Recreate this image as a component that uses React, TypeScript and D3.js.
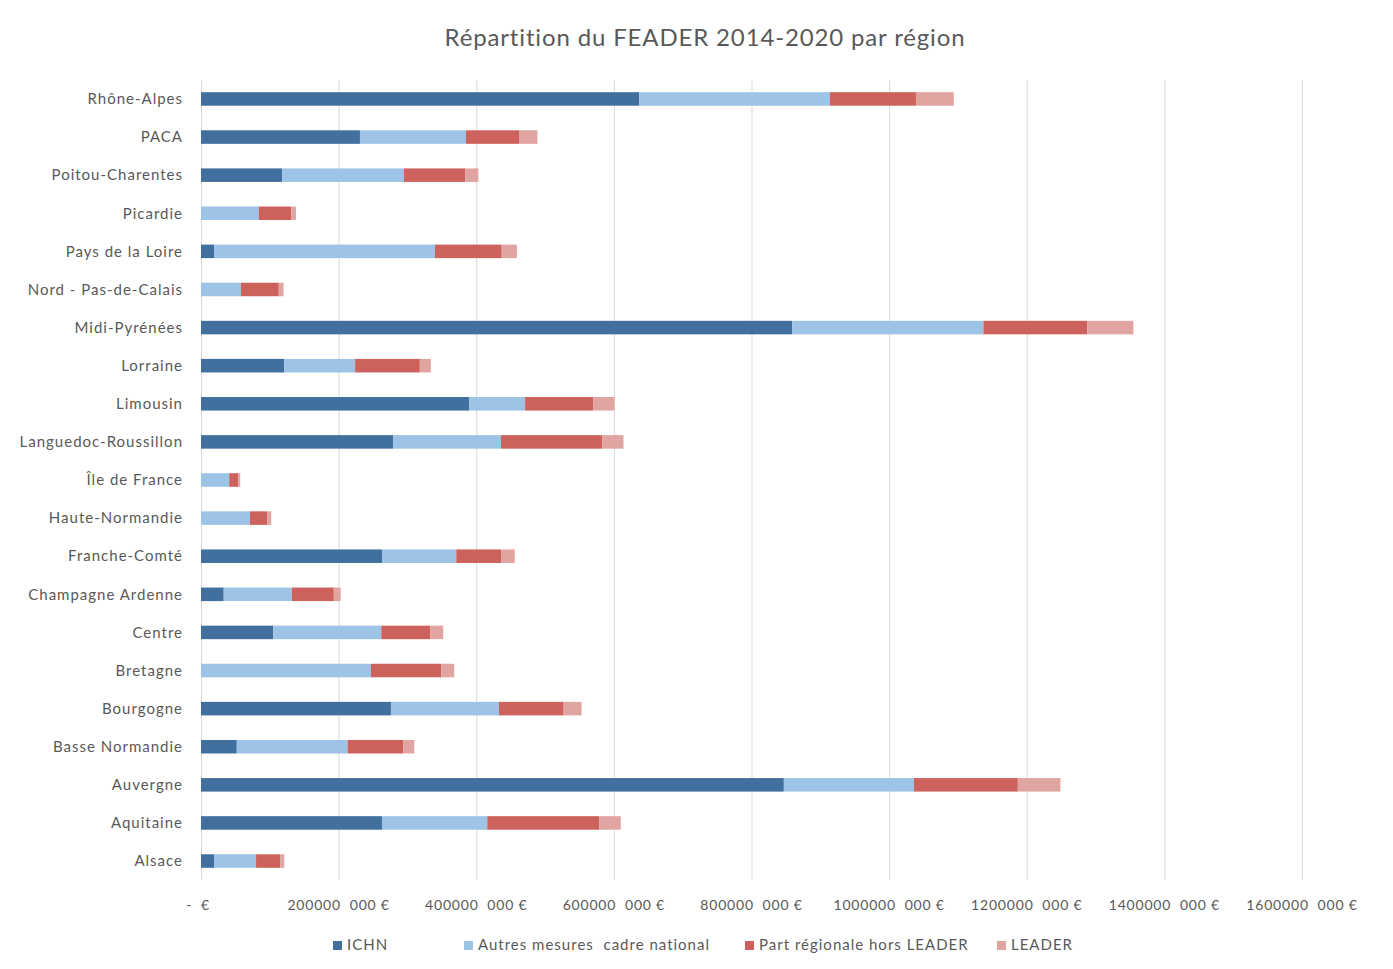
import { useEffect, useRef } from 'react';
import * as d3 from 'd3';

// values in millions of euros
const regions = [
  'Rhône-Alpes', 'PACA', 'Poitou-Charentes', 'Picardie', 'Pays de la Loire',
  'Nord - Pas-de-Calais', 'Midi-Pyrénées', 'Lorraine', 'Limousin',
  'Languedoc-Roussillon', 'Île de France', 'Haute-Normandie', 'Franche-Comté',
  'Champagne Ardenne', 'Centre', 'Bretagne', 'Bourgogne', 'Basse Normandie',
  'Auvergne', 'Aquitaine', 'Alsace'
];
const ichn = [637, 231, 118, 0, 19, 0, 859, 121, 390, 279, 0, 0, 263, 33, 105, 0, 276, 52, 847, 263, 19];
const autres = [277, 154, 177, 84, 321, 58, 278, 103, 81, 157, 41, 71, 108, 99, 157, 247, 157, 161, 189, 153, 61];
const partRegionale = [125, 78, 89, 47, 97, 55, 151, 94, 99, 147, 13, 25, 65, 61, 71, 102, 94, 81, 151, 163, 35];
const leader = [55, 26, 19, 7, 22, 7, 67, 16, 31, 31, 3, 6, 20, 10, 19, 19, 26, 16, 62, 31, 6];

const seriesNames = ['ICHN', 'Autres mesures  cadre national', 'Part régionale hors LEADER', 'LEADER'];
const colors = ['#41709e', '#9dc3e6', '#cd615b', '#e0a4a1'];
const tickValues = [0, 200, 400, 600, 800, 1000, 1200, 1400, 1600];
const tickLabels = ['-  €', '200000  000 €', '400000  000 €', '600000  000 €', '800000  000 €',
  '1000000  000 €', '1200000  000 €', '1400000  000 €', '1600000  000 €'];

export default function App() {
  const svgRef = useRef<SVGSVGElement>(null);

  useEffect(() => {
    const svg = d3.select(svgRef.current);
    svg.selectAll('*').remove();

    const width = 1393;
    const height = 969;
    const margin = { top: 80, right: 91, bottom: 89, left: 201 };
    const font = 'Lato, "Open Sans", sans-serif';
    const textColor = '#595959';

    svg.attr('width', width).attr('height', height)
      .style('font-family', font);

    svg.append('rect')
      .attr('x', 7.5).attr('y', 5.5)
      .attr('width', 1380).attr('height', 960)
      .attr('fill', '#fff')
      .attr('stroke', '#d9d9d9');

    svg.append('text')
      .attr('x', 705).attr('y', 46)
      .attr('text-anchor', 'middle')
      .attr('font-size', 24)
      .attr('letter-spacing', 0.85)
      .attr('fill', textColor)
      .text('Répartition du FEADER 2014-2020 par région');

    const rows = regions.map((r, i) => ({
      region: r,
      s0: ichn[i], s1: autres[i], s2: partRegionale[i], s3: leader[i]
    }));
    const keys = ['s0', 's1', 's2', 's3'];

    const x = d3.scaleLinear()
      .domain([0, 1600])
      .range([margin.left, width - margin.right]);

    const y = d3.scaleBand()
      .domain(regions)
      .range([margin.top, height - margin.bottom])
      .paddingInner(0.645)
      .paddingOuter(0.32);

    const g = svg.append('g');

    // gridlines
    g.selectAll('line.grid')
      .data(tickValues)
      .join('line')
      .attr('class', 'grid')
      .attr('x1', d => x(d) + 0.5).attr('x2', d => x(d) + 0.5)
      .attr('y1', margin.top).attr('y2', height - margin.bottom)
      .attr('stroke', '#d9d9d9')
      .attr('stroke-width', 1);

    const stack = d3.stack<any>().keys(keys);
    const series = stack(rows);

    g.selectAll('g.series')
      .data(series)
      .join('g')
      .attr('class', 'series')
      .attr('fill', (_d, i) => colors[i])
      .selectAll('rect')
      .data(d => d)
      .join('rect')
      .attr('x', d => x(d[0]))
      .attr('y', d => y(d.data.region) as number)
      .attr('width', d => Math.max(0, x(d[1]) - x(d[0])))
      .attr('height', y.bandwidth());

    // category labels
    g.selectAll('text.cat')
      .data(regions)
      .join('text')
      .attr('class', 'cat')
      .attr('x', 183)
      .attr('y', d => (y(d) as number) + y.bandwidth() / 2)
      .attr('dy', '0.35em')
      .attr('text-anchor', 'end')
      .attr('font-size', 15)
      .attr('letter-spacing', 1)
      .attr('fill', textColor)
      .text(d => d);

    // x tick labels
    g.selectAll('text.tick')
      .data(tickValues)
      .join('text')
      .attr('class', 'tick')
      .attr('x', d => x(d) - (d === 0 ? 3 : 0))
      .attr('y', 910)
      .attr('text-anchor', 'middle')
      .attr('font-size', 14)
      .attr('letter-spacing', 0.8)
      .attr('fill', textColor)
      .style('white-space', 'pre')
      .text((_d, i) => tickLabels[i]);

    // legend
    const legendX = [333, 464, 745, 997];
    const legend = svg.append('g');
    seriesNames.forEach((name, i) => {
      legend.append('rect')
        .attr('x', legendX[i]).attr('y', 941)
        .attr('width', 9).attr('height', 9)
        .attr('fill', colors[i]);
      legend.append('text')
        .attr('x', legendX[i] + 14).attr('y', 950)
        .attr('font-size', 15)
        .attr('letter-spacing', 1)
        .attr('fill', textColor)
        .style('white-space', 'pre')
        .text(name);
    });
  }, []);

  return <svg ref={svgRef} style={{ display: 'block', margin: '-8px' }}></svg>;
}
